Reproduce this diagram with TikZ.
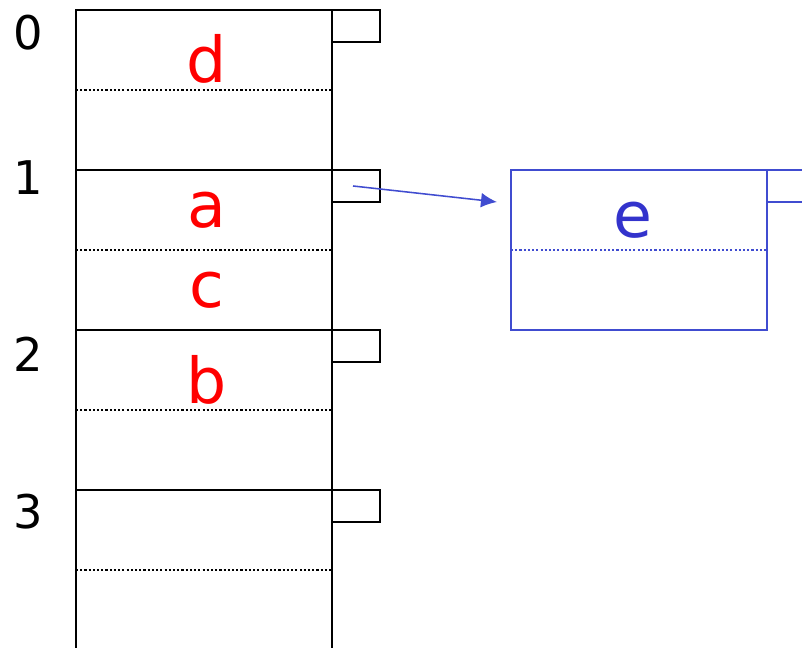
\documentclass[tikz,border=0pt]{standalone}
\usepackage{fontspec}
\setmainfont{DejaVu Sans}
\usetikzlibrary{arrows.meta}
\definecolor{ptrblue}{RGB}{64,76,208}
\definecolor{keyblue}{RGB}{51,51,204}
\begin{document}
\begin{tikzpicture}[x=0.025cm, y=-0.025cm, line width=1.4pt,
  bucket/.style={draw, minimum width=6.4cm, minimum height=4cm, inner sep=0pt, outer sep=0pt},
  ptrbox/.style={draw, minimum width=1.2cm, minimum height=0.8cm, inner sep=0pt, outer sep=0pt},
  slotline/.style={line width=1.1pt, dash pattern=on 1.5pt off 1.5pt},
  idx/.style={font=\fontsize{33}{40}\selectfont, anchor=base},
  key/.style={font=\fontsize{45}{54}\selectfont, text=red, anchor=base}]
\useasboundingbox (0,0) rectangle (802,648);
\clip (0,0) rectangle (802,648);

% hash table
\foreach \i/\yb in {0/50,1/195,2/372,3/528}{
  \node[bucket] (b\i) at (204,{90+160*\i}) {};
  \node[ptrbox] (p\i) at (356,{26+160*\i}) {};
  \draw[slotline] (b\i.west) -- (b\i.east);
  \node[idx] (n\i) at (28,\yb) {\i};
}
\node[key] (kd) at (207,83) {d};
\node[key] (ka) at (207,228) {a};
\node[key] (kc) at (207,308) {c};
\node[key] (kb) at (207,403) {b};

% overflow bucket
\node[bucket, draw=ptrblue] (ov) at (639,250) {};
\node[ptrbox, draw=ptrblue] (pov) at (791,186) {};
\draw[slotline, ptrblue] (ov.west) -- (ov.east);
\node[key, text=keyblue] (ke) at (633,238) {e};

\coordinate (s) at (353,186);
\coordinate (t) at (497,202);
\draw[ptrblue, line width=1.1pt, -{Latex[length=0.4cm,width=0.37cm]}] (s) -- (t);
\end{tikzpicture}
\end{document}
